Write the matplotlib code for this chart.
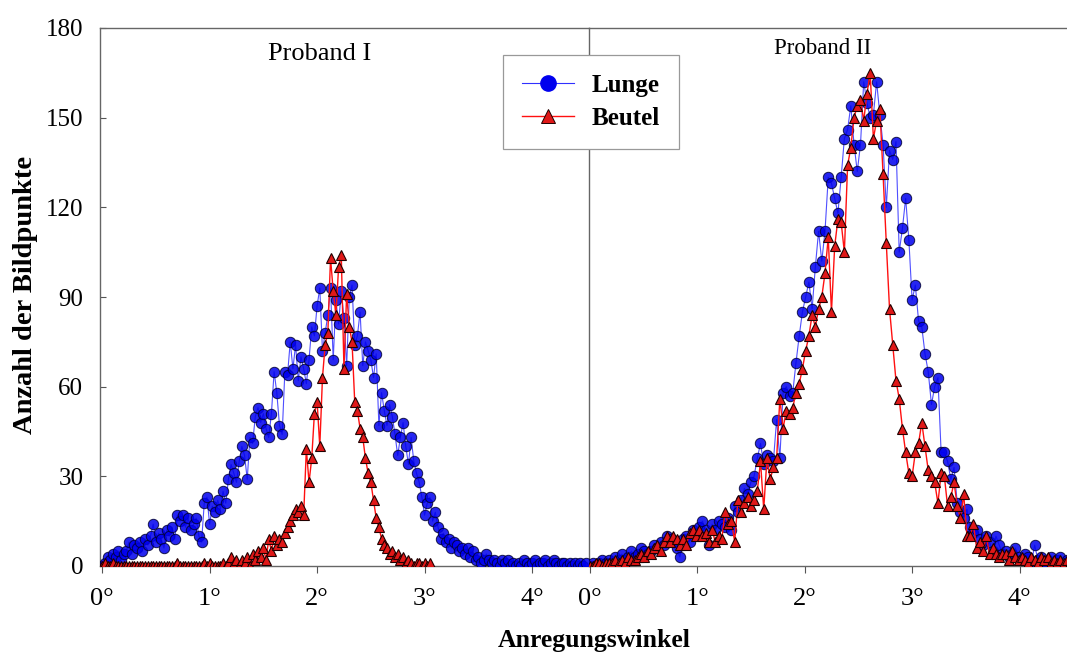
import matplotlib
matplotlib.use("Agg")
import matplotlib.pyplot as plt
import numpy as np
from matplotlib.lines import Line2D

# Proband I, 0.025 deg bins
step_1 = 0.025
lunge_1 = [
    0, 1, 3, 2, 4, 3, 5, 2, 4, 5,
    8, 4, 7, 6, 8, 5, 9, 7, 10, 14,
    8, 11, 9, 6, 12, 10, 13, 9, 17, 15,
    17, 13, 16, 12, 14, 16, 10, 8, 21, 23,
    14, 20, 18, 22, 19, 25, 21, 29, 34, 31,
    28, 35, 40, 37, 29, 43, 41, 50, 53, 48,
    51, 46, 43, 51, 65, 58, 47, 44, 65, 64,
    75, 66, 74, 62, 70, 66, 61, 69, 80, 77,
    87, 93, 72, 78, 84, 93, 69, 89, 81, 92,
    83, 67, 90, 94, 74, 77, 85, 67, 75, 72,
    69, 63, 71, 47, 58, 52, 47, 54, 50, 44,
    37, 43, 48, 40, 34, 43, 35, 31, 28, 23,
    17, 21, 23, 15, 18, 13, 9, 11, 8, 9,
    6, 8, 7, 5, 6, 4, 6, 3, 5, 2,
    3, 1, 2, 4, 2, 1, 2, 1, 0, 2,
    1, 2, 0, 1, 0, 1, 0, 2, 1, 0,
    1, 2, 0, 1, 1, 2, 0, 1, 2, 1,
    0, 1, 1, 0, 1, 0, 1, 0, 1, 0,
    1,
]
beutel_1 = [
    0, 1, 0, 0, 1, 0, 0, 0, 0, 0,
    0, 0, 0, 0, 0, 0, 0, 0, 0, 0,
    0, 0, 0, 0, 0, 0, 0, 0, 1, 0,
    0, 0, 0, 0, 0, 0, 0, 0, 1, 0,
    1, 0, 0, 0, 0, 1, 0, 1, 3, 1,
    2, 0, 2, 1, 3, 0, 4, 2, 5, 3,
    6, 2, 9, 5, 10, 7, 9, 8, 11, 13,
    15, 17, 19, 18, 20, 17, 39, 28, 36, 51,
    55, 40, 63, 74, 78, 103, 92, 84, 100, 104,
    66, 91, 80, 75, 55, 52, 46, 43, 36, 31,
    28, 22, 16, 13, 9, 7, 6, 4, 5, 3,
    4, 2, 3, 1, 2, 1, 0, 1, 1, 0,
    1, 0, 1,
]

# Proband II, 0.03 deg bins
step_2 = 0.03
lunge_2 = [
    0, 1, 0, 1, 2, 1, 2, 1, 3, 2,
    4, 2, 3, 5, 3, 4, 6, 5, 4, 5,
    7, 6, 8, 7, 10, 9, 8, 6, 3, 9,
    10, 8, 12, 11, 13, 15, 12, 7, 14, 12,
    15, 14, 13, 16, 12, 20, 18, 22, 26, 24,
    28, 30, 36, 41, 34, 37, 36, 35, 49, 36,
    58, 60, 57, 58, 68, 77, 85, 90, 95, 86,
    100, 112, 102, 112, 130, 128, 123, 118, 130, 143,
    146, 154, 141, 132, 141, 162, 155, 150, 151, 162,
    151, 141, 120, 139, 136, 142, 105, 113, 123, 109,
    89, 94, 82, 80, 71, 65, 54, 60, 63, 38,
    38, 35, 29, 33, 21, 18, 16, 19, 13, 11,
    12, 9, 7, 10, 8, 5, 10, 7, 4, 5,
    3, 4, 6, 3, 2, 4, 3, 1, 7, 2,
    3, 1, 2, 3, 1, 2, 3, 1, 2, 1,
]
beutel_2 = [
    0, 0, 1, 1, 0, 1, 1, 1, 2, 1,
    2, 1, 3, 2, 2, 3, 4, 3, 5, 4,
    6, 7, 5, 8, 10, 8, 10, 9, 7, 9,
    7, 11, 12, 10, 12, 10, 11, 8, 12, 8,
    10, 9, 18, 14, 15, 8, 22, 18, 21, 23,
    20, 22, 25, 35, 19, 36, 29, 33, 36, 56,
    46, 52, 51, 53, 58, 61, 66, 72, 77, 84,
    80, 86, 90, 98, 110, 85, 107, 116, 115, 105,
    134, 140, 150, 154, 156, 149, 158, 165, 143, 149,
    153, 131, 108, 86, 74, 62, 56, 46, 38, 31,
    30, 38, 41, 48, 40, 32, 30, 28, 21, 31,
    30, 20, 23, 28, 20, 16, 24, 10, 10, 14,
    6, 8, 5, 10, 4, 6, 4, 3, 4, 4,
    2, 5, 3, 2, 3, 2, 1, 3, 2, 1,
    3, 2, 3, 1, 2, 1, 2, 1, 2, 1,
]

y_ticks = [0, 30, 60, 90, 120, 150, 180]
x_ticks = [0, 1, 2, 3, 4]
x_ticklabels = ["0°", "1°", "2°", "3°", "4°"]

plt.rcParams["font.family"] = ["Liberation Serif", "DejaVu Serif"]

W, H = 1067, 652
fig = plt.figure(figsize=(W / 100, H / 100), dpi=100)

bottom = (H - 566) / H
height = (566 - 28) / H
ax1 = fig.add_axes([100 / W, bottom, (589 - 100) / W, height])
ax2 = fig.add_axes([589 / W, bottom, (1075 - 589) / W, height], sharey=ax1)
ax2.set_facecolor("none")

blue_line = dict(color="#3030ff", lw=0.8, alpha=0.85,
                 marker="o", ms=7.5, mfc="#0000ee", mec="#000030", mew=0.7)
red_line = dict(color="#ff1010", lw=1.0,
                marker="^", ms=7.5, mfc="#e01818", mec="#200000", mew=0.8)


def draw_panel(ax, step, lunge, beutel):
    x_l = np.arange(len(lunge)) * step
    x_b = np.arange(len(beutel)) * step
    ax.plot(x_l, lunge, **blue_line, zorder=3)
    ax.plot(x_b, beutel, **red_line, zorder=4)
    ax.set_xticks(x_ticks, x_ticklabels)
    ax.tick_params(axis="x", direction="out", length=5, width=0.8,
                   colors="#555555", labelcolor="black", labelsize=19, pad=11)
    for s in ax.spines.values():
        s.set_color("#666666")
        s.set_linewidth(1.0)


draw_panel(ax1, step_1, lunge_1, beutel_1)
draw_panel(ax2, step_2, lunge_2, beutel_2)

ax1.set_xlim(-0.02, 4.53)
ax2.set_xlim(-0.005, 4.515)
ax1.set_ylim(0, 180)
ax1.set_yticks(y_ticks)
ax1.tick_params(axis="y", direction="in", length=4, width=0.8,
                colors="#555555", labelcolor="black", labelsize=18, pad=12)
ax2.tick_params(axis="y", left=False, labelleft=False)
ax2.spines["left"].set_visible(False)
ax2.spines["right"].set_visible(False)

fig.text(320 / W, 1 - 54 / H, "Proband I", ha="center", va="center", fontsize=19)
fig.text(823 / W, 1 - 48 / H, "Proband II", ha="center", va="center", fontsize=16.5)

fig.text(594 / W, 1 - 641 / H, "Anregungswinkel", ha="center", va="center",
         fontsize=18.5, fontweight="bold")
fig.text(26 / W, 1 - 295 / H, "Anzahl der Bildpunkte", ha="center", va="center",
         rotation=90, fontsize=20.5, fontweight="bold")

handles = [
    Line2D([], [], color="#3030ff", lw=0.8, marker="o", ms=11,
           mfc="#0000ee", mec="#0000ee"),
    Line2D([], [], color="#ff1010", lw=1.0, marker="^", ms=10,
           mfc="#e01818", mec="#200000", mew=0.7),
]
leg = fig.legend(handles, ["Lunge", "Beutel"], loc="upper left",
                 bbox_to_anchor=(503 / W, 1 - 55 / H), borderaxespad=0,
                 prop={"weight": "bold", "size": 18}, frameon=True,
                 fancybox=False, edgecolor="#999999", framealpha=1,
                 handlelength=2.1, borderpad=0.75, labelspacing=0.4,
                 handletextpad=0.7)
leg.get_frame().set_linewidth(0.9)

fig.savefig("out.png", dpi=100)
